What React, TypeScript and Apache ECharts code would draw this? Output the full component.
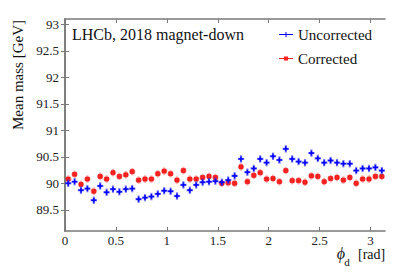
import React, { useEffect, useRef } from "react";
import * as echarts from "echarts";

const nBins = 50;
const phiMax = Math.PI;
const binCenters: number[] = Array.from({ length: nBins }, (_, i) => ((i + 0.5) * phiMax) / nBins);

const uncorrected = [
  90.0, 90.03, 89.87, 89.9, 89.68, 89.95, 89.83, 89.89, 89.84, 89.89,
  89.9, 89.7, 89.73, 89.75, 89.8, 89.86, 89.85, 89.76, 89.97, 89.87,
  89.97, 90.02, 90.03, 90.04, 90.02, 90.06, 90.14, 90.46, 90.21, 90.28,
  90.46, 90.39, 90.51, 90.44, 90.65, 90.46, 90.41, 90.39, 90.57, 90.47,
  90.39, 90.43, 90.39, 90.37, 90.37, 90.24, 90.28, 90.28, 90.3, 90.24,
];
const corrected = [
  90.08, 90.17, 89.98, 90.08, 89.85, 90.13, 90.08, 90.2, 90.13, 90.16,
  90.22, 90.06, 90.08, 90.08, 90.18, 90.23, 90.18, 90.06, 90.24, 90.08,
  90.08, 90.11, 90.13, 90.11, 90.0, 90.01, 90.0, 90.31, 90.03, 90.15,
  90.2, 90.08, 90.09, 90.03, 90.24, 90.05, 90.05, 90.02, 90.14, 90.13,
  90.03, 90.09, 90.11, 90.06, 90.11, 90.0, 90.08, 90.08, 90.13, 90.13,
];
const errUnc = 0.07;
const errCor = 0.07;
const xTicks = [0, 0.5, 1, 1.5, 2, 2.5, 3];
const yTicks = [89.5, 90, 90.5, 91, 91.5, 92, 92.5, 93];

const FONT = "Liberation Serif";

function makeRender(kind: "unc" | "cor") {
  const halfBin = phiMax / nBins / 2;
  const err = kind === "unc" ? errUnc : errCor;
  const light = kind === "unc" ? "rgba(40,40,255,0.6)" : "rgba(255,60,60,0.45)";
  const dark = kind === "unc" ? "#0000ff" : "#ff0000";
  return (params: any, api: any) => {
    const x = api.value(0);
    const y = api.value(1);
    const c = api.coord([x, y]);
    const l = api.coord([x - halfBin, y]);
    const r = api.coord([x + halfBin, y]);
    const t = api.coord([x, y + err]);
    const b = api.coord([x, y - err]);
    const children: any[] = [
      { type: "line", shape: { x1: l[0], y1: l[1], x2: r[0], y2: r[1] }, style: { stroke: light, lineWidth: 2.2 } },
      { type: "line", shape: { x1: t[0], y1: t[1], x2: b[0], y2: b[1] }, style: { stroke: light, lineWidth: 2.2 } },
    ];
    if (kind === "unc") {
      children.push(
        { type: "line", shape: { x1: c[0] - 2.5, y1: c[1], x2: c[0] + 2.5, y2: c[1] }, style: { stroke: dark, lineWidth: 1.4 } },
        { type: "line", shape: { x1: c[0], y1: c[1] - 2.5, x2: c[0], y2: c[1] + 2.5 }, style: { stroke: dark, lineWidth: 1.4 } }
      );
    } else {
      children.push({
        type: "rect",
        shape: { x: c[0] - 2, y: c[1] - 2, width: 4, height: 4 },
        style: { fill: "#ff2020", stroke: "#e00000", lineWidth: 0.6 },
      });
    }
    return { type: "group", children };
  };
}

export default function App() {
  const ref = useRef<HTMLDivElement>(null);
  useEffect(() => {
    document.body.style.margin = "0";
    const chart = echarts.init(ref.current!, null, { renderer: "svg" });
    const axisLine = { show: true, lineStyle: { color: "#7a7a7a", width: 1.6 } };
    const tickStyle = { lineStyle: { color: "#7a7a7a", width: 1 } };
    chart.setOption({
      animation: false,
      backgroundColor: "#ffffff",
      textStyle: { fontFamily: FONT },
      grid: { left: 65, right: 22, top: 19, bottom: 45 },
      title: {
        text: "LHCb, 2018 magnet-down",
        left: 72,
        top: 26,
        padding: 0,
        textStyle: { fontFamily: FONT, fontSize: 16, fontWeight: "normal", color: "#111" },
      },
      legend: {
        orient: "vertical",
        left: 279,
        top: 27,
        padding: 0,
        itemWidth: 14,
        itemHeight: 7,
        itemGap: 9,
        textStyle: { fontFamily: FONT, fontSize: 15, color: "#111" },
        data: [
          { name: "Uncorrected", icon: "path://M0,3h14v1h-14z M6.5,1h1v5h-1z" },
          { name: "Corrected", icon: "path://M0,3h14v1h-14z M5,1.5h4v4h-4z" },
        ],
      },
      xAxis: [
        {
          type: "value",
          min: 0,
          max: phiMax,
          position: "bottom",
          axisLine,
          axisTick: { show: true, inside: true, length: 4, customValues: xTicks, ...tickStyle },
          axisLabel: { customValues: xTicks, fontFamily: FONT, fontSize: 13, color: "#222", margin: 3 },
          splitLine: { show: false },
        },
        {
          type: "value",
          min: 0,
          max: phiMax,
          position: "top",
          axisLine,
          axisTick: { show: true, inside: true, length: 4, customValues: xTicks, ...tickStyle },
          axisLabel: { show: false },
          splitLine: { show: false },
        },
      ],
      yAxis: [
        {
          type: "value",
          min: 89.1,
          max: 93.1,
          position: "left",
          axisLine,
          axisTick: { show: true, inside: true, length: 4, customValues: yTicks, ...tickStyle },
          axisLabel: { customValues: yTicks, fontFamily: FONT, fontSize: 13, color: "#222", margin: 6 },
          splitLine: { show: false },
        },
        {
          type: "value",
          min: 89.1,
          max: 93.1,
          position: "right",
          axisLine,
          axisTick: { show: true, inside: true, length: 4, customValues: yTicks, ...tickStyle },
          axisLabel: { show: false },
          splitLine: { show: false },
        },
      ],
      graphic: [
        {
          type: "text",
          x: 18,
          y: 75,
          rotation: Math.PI / 2,
          style: { text: "Mean mass [GeV]", font: `15px ${FONT}`, fill: "#111", textAlign: "center", textVerticalAlign: "middle" },
        },
        {
          type: "text",
          x: 341,
          y: 253,
          style: { text: "ϕ", font: `italic 16px ${FONT}`, fill: "#111", textAlign: "center", textVerticalAlign: "middle" },
        },
        {
          type: "text",
          x: 347,
          y: 262,
          style: { text: "d", font: `11px ${FONT}`, fill: "#111", textAlign: "center", textVerticalAlign: "middle" },
        },
        {
          type: "text",
          x: 358,
          y: 254,
          style: { text: "[rad]", font: `14px ${FONT}`, fill: "#111", textAlign: "left", textVerticalAlign: "middle" },
        },
      ],
      series: [
        {
          name: "Uncorrected",
          type: "custom",
          xAxisIndex: 0,
          yAxisIndex: 0,
          itemStyle: { color: "#0000ff" },
          renderItem: makeRender("unc"),
          data: binCenters.map((x, i) => [x, uncorrected[i]]),
          z: 3,
        },
        {
          name: "Corrected",
          type: "custom",
          xAxisIndex: 0,
          yAxisIndex: 0,
          itemStyle: { color: "#ff2020" },
          renderItem: makeRender("cor"),
          data: binCenters.map((x, i) => [x, corrected[i]]),
          z: 2,
        },
      ],
    });
    return () => chart.dispose();
  }, []);
  return <div ref={ref} style={{ position: "fixed", left: 0, top: 0, width: 407, height: 276 }} />;
}
